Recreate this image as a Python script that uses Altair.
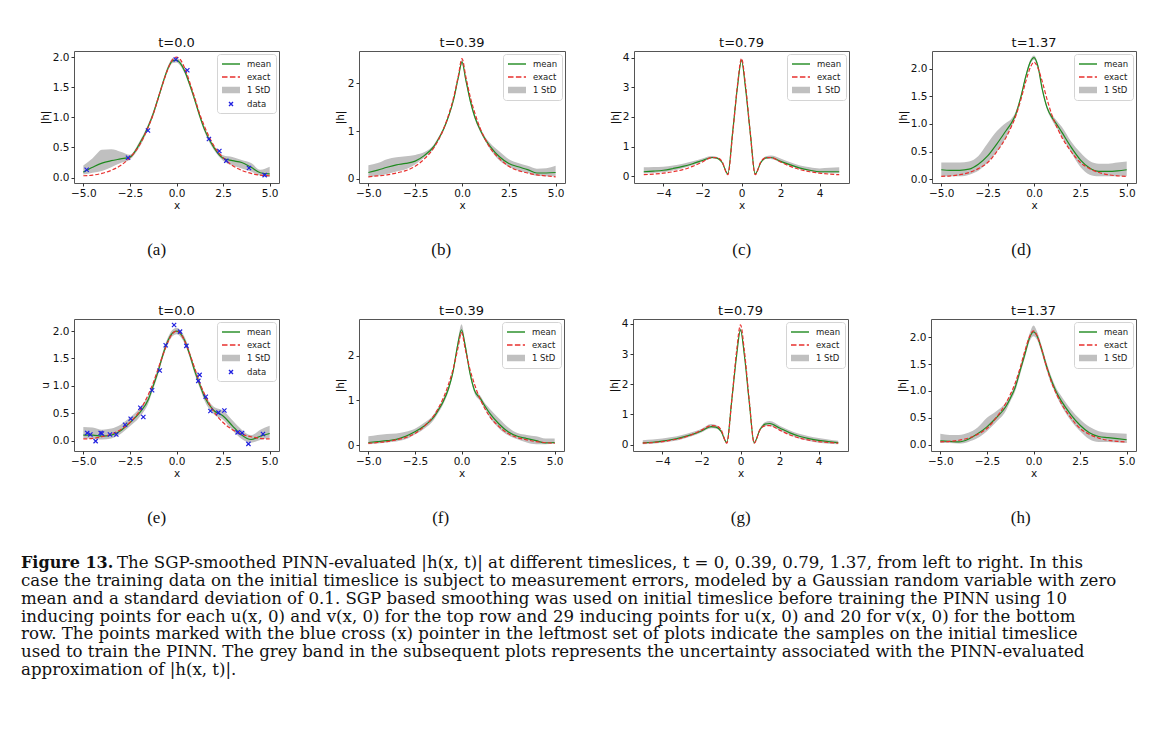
import altair as alt
import pandas as pd

# ---------------- data ----------------
XG = [-5, -4.5, -4, -3.5, -3, -2.5, -2, -1.5, -1.25, -1, -0.7, -0.45, -0.2, 0,
      0.2, 0.45, 0.7, 1, 1.25, 1.5, 2, 2.5, 3, 3.5, 4, 4.5, 5]

# exact solution |h| at each timeslice
EX_T0 = [0.03, 0.04, 0.07, 0.12, 0.20, 0.33, 0.53, 0.85, 1.05, 1.30, 1.59, 1.81, 1.96, 2.00,
         1.96, 1.81, 1.59, 1.30, 1.05, 0.85, 0.53, 0.33, 0.20, 0.12, 0.07, 0.04, 0.03]
EX_T1 = [0.04, 0.06, 0.08, 0.12, 0.17, 0.26, 0.42, 0.65, 0.82, 1.03, 1.36, 1.70, 2.15, 2.52,
         2.15, 1.70, 1.36, 1.03, 0.82, 0.65, 0.42, 0.26, 0.17, 0.12, 0.08, 0.06, 0.04]
EX_T2 = [0.05, 0.07, 0.10, 0.15, 0.22, 0.33, 0.48, 0.63, 0.62, 0.50, 0.05, 1.45, 3.10, 3.97,
         3.10, 1.45, 0.05, 0.50, 0.62, 0.63, 0.48, 0.33, 0.22, 0.15, 0.10, 0.07, 0.05]
EX_T3 = [0.05, 0.06, 0.08, 0.12, 0.19, 0.30, 0.50, 0.76, 0.93, 1.13, 1.45, 1.76, 2.02, 2.12,
         2.02, 1.76, 1.45, 1.13, 0.93, 0.76, 0.50, 0.30, 0.19, 0.12, 0.08, 0.06, 0.05]

# top row
MEAN_A = [0.09, 0.17, 0.24, 0.28, 0.31, 0.34, 0.55, 0.86, 1.06, 1.30, 1.60, 1.82, 1.94, 1.95,
          1.90, 1.76, 1.55, 1.27, 1.02, 0.80, 0.50, 0.32, 0.28, 0.25, 0.17, 0.08, 0.06]
LO_A = [0.05, 0.08, 0.11, 0.17, 0.24, 0.30, 0.50, 0.82, 1.02, 1.26, 1.56, 1.78, 1.90, 1.91,
        1.86, 1.72, 1.51, 1.23, 0.98, 0.76, 0.46, 0.28, 0.20, 0.15, 0.10, 0.03, 0.01]
HI_A = [0.20, 0.32, 0.46, 0.47, 0.43, 0.38, 0.59, 0.90, 1.10, 1.34, 1.64, 1.86, 1.98, 1.99,
        1.94, 1.80, 1.59, 1.31, 1.06, 0.84, 0.54, 0.37, 0.34, 0.29, 0.24, 0.13, 0.18]
DX_A = [-4.82, -2.6, -1.53, -0.04, 0.58, 1.74, 2.3, 2.67, 3.89, 4.73]
DY_A = [0.13, 0.33, 0.78, 1.96, 1.78, 0.64, 0.44, 0.28, 0.16, 0.04]

MEAN_B = [0.13, 0.18, 0.24, 0.29, 0.32, 0.37, 0.49, 0.68, 0.84, 1.03, 1.33, 1.66, 2.12, 2.45,
          2.08, 1.62, 1.28, 1.00, 0.82, 0.68, 0.46, 0.32, 0.25, 0.19, 0.12, 0.12, 0.13]
LO_B = [0.03, 0.06, 0.10, 0.15, 0.20, 0.30, 0.45, 0.64, 0.80, 0.99, 1.29, 1.62, 2.07, 2.40,
        2.03, 1.57, 1.23, 0.96, 0.78, 0.62, 0.38, 0.25, 0.17, 0.12, 0.06, 0.05, 0.05]
HI_B = [0.28, 0.33, 0.41, 0.45, 0.47, 0.50, 0.56, 0.72, 0.88, 1.07, 1.37, 1.70, 2.17, 2.50,
        2.13, 1.67, 1.33, 1.05, 0.87, 0.75, 0.57, 0.41, 0.33, 0.27, 0.21, 0.22, 0.27]

MEAN_C = [0.15, 0.17, 0.20, 0.26, 0.33, 0.42, 0.53, 0.63, 0.61, 0.47, 0.08, 1.50, 3.05, 3.90,
          3.00, 1.45, 0.08, 0.47, 0.62, 0.63, 0.50, 0.38, 0.27, 0.20, 0.15, 0.15, 0.15]
LO_C = [0.09, 0.11, 0.13, 0.19, 0.27, 0.37, 0.49, 0.60, 0.58, 0.44, 0.05, 1.46, 3.00, 3.85,
        2.95, 1.41, 0.05, 0.44, 0.58, 0.58, 0.46, 0.34, 0.23, 0.17, 0.11, 0.10, 0.10]
HI_C = [0.30, 0.31, 0.32, 0.36, 0.42, 0.50, 0.60, 0.68, 0.65, 0.51, 0.11, 1.54, 3.10, 3.95,
        3.05, 1.49, 0.11, 0.51, 0.67, 0.70, 0.60, 0.47, 0.36, 0.30, 0.26, 0.28, 0.30]

MEAN_D = [0.17, 0.16, 0.16, 0.18, 0.27, 0.42, 0.64, 0.88, 1.00, 1.16, 1.50, 1.85, 2.12, 2.20,
          2.06, 1.62, 1.30, 1.10, 0.98, 0.85, 0.58, 0.35, 0.20, 0.14, 0.14, 0.15, 0.17]
LO_D = [0.05, 0.05, 0.05, 0.08, 0.15, 0.30, 0.50, 0.76, 0.93, 1.11, 1.46, 1.81, 2.08, 2.16,
        2.02, 1.58, 1.26, 1.05, 0.91, 0.77, 0.48, 0.22, 0.08, 0.05, 0.05, 0.05, 0.05]
HI_D = [0.30, 0.30, 0.30, 0.32, 0.42, 0.65, 0.87, 1.02, 1.08, 1.21, 1.54, 1.89, 2.16, 2.24,
        2.10, 1.66, 1.34, 1.15, 1.05, 0.95, 0.68, 0.48, 0.33, 0.28, 0.28, 0.30, 0.32]

# bottom row
MEAN_E = [0.10, 0.10, 0.08, 0.10, 0.18, 0.33, 0.50, 0.76, 1.00, 1.25, 1.60, 1.83, 1.97, 2.00,
          1.96, 1.82, 1.58, 1.25, 1.02, 0.80, 0.55, 0.45, 0.27, 0.10, 0.02, 0.08, 0.13]
LO_E = [0.04, 0.04, 0.02, 0.04, 0.12, 0.26, 0.42, 0.69, 0.94, 1.19, 1.54, 1.77, 1.91, 1.94,
        1.90, 1.76, 1.52, 1.19, 0.96, 0.73, 0.48, 0.38, 0.19, 0.03, -0.04, 0.01, 0.05]
HI_E = [0.25, 0.24, 0.20, 0.22, 0.29, 0.42, 0.58, 0.84, 1.06, 1.31, 1.66, 1.89, 2.03, 2.06,
        2.02, 1.88, 1.64, 1.31, 1.08, 0.87, 0.62, 0.55, 0.37, 0.20, 0.10, 0.20, 0.27]
DX_E = [-4.79, -4.62, -4.34, -4.07, -4.0, -3.57, -3.23, -2.76, -2.46, -1.94, -1.78, -1.31,
        -0.9, -0.58, -0.13, 0.19, 0.53, 1.17, 1.24, 1.57, 1.82, 2.25, 2.57, 3.28, 3.52, 3.86, 4.64]
DY_E = [0.14, 0.11, -0.01, 0.14, 0.13, 0.11, 0.11, 0.29, 0.40, 0.60, 0.43, 0.92,
        1.28, 1.74, 2.11, 1.99, 1.73, 1.09, 1.20, 0.80, 0.54, 0.51, 0.55, 0.15, 0.14, -0.06, 0.12]

MEAN_F = [0.06, 0.08, 0.10, 0.13, 0.20, 0.30, 0.43, 0.62, 0.78, 0.96, 1.26, 1.65, 2.25, 2.58,
          2.22, 1.62, 1.22, 1.05, 0.88, 0.72, 0.48, 0.30, 0.20, 0.15, 0.10, 0.05, 0.06]
LO_F = [0.02, 0.04, 0.06, 0.08, 0.13, 0.24, 0.37, 0.56, 0.72, 0.90, 1.20, 1.59, 2.17, 2.48,
        2.14, 1.56, 1.16, 0.99, 0.82, 0.63, 0.38, 0.22, 0.13, 0.06, 0.02, 0.02, 0.03]
HI_F = [0.20, 0.23, 0.25, 0.26, 0.30, 0.37, 0.50, 0.68, 0.84, 1.02, 1.32, 1.71, 2.33, 2.70,
        2.30, 1.68, 1.28, 1.11, 0.94, 0.82, 0.60, 0.40, 0.27, 0.23, 0.20, 0.15, 0.15]

MEAN_G = [0.06, 0.08, 0.12, 0.17, 0.24, 0.33, 0.45, 0.60, 0.58, 0.45, 0.07, 1.45, 2.95, 3.80,
          2.95, 1.40, 0.07, 0.50, 0.68, 0.70, 0.55, 0.40, 0.28, 0.20, 0.14, 0.10, 0.07]
LO_G = [0.01, 0.03, 0.06, 0.11, 0.18, 0.28, 0.40, 0.54, 0.53, 0.41, 0.04, 1.40, 2.90, 3.74,
        2.90, 1.35, 0.04, 0.45, 0.62, 0.62, 0.48, 0.33, 0.20, 0.12, 0.06, 0.03, 0.01]
HI_G = [0.15, 0.17, 0.20, 0.25, 0.32, 0.41, 0.52, 0.68, 0.65, 0.50, 0.10, 1.50, 3.00, 3.86,
        3.00, 1.45, 0.10, 0.55, 0.74, 0.78, 0.63, 0.48, 0.36, 0.28, 0.22, 0.17, 0.13]

MEAN_H = [0.07, 0.06, 0.05, 0.10, 0.20, 0.33, 0.50, 0.70, 0.86, 1.05, 1.40, 1.70, 2.00, 2.10,
          2.02, 1.76, 1.46, 1.16, 0.96, 0.81, 0.56, 0.36, 0.22, 0.15, 0.13, 0.11, 0.09]
LO_H = [0.03, 0.03, 0.02, 0.05, 0.12, 0.25, 0.42, 0.62, 0.80, 0.98, 1.33, 1.63, 1.93, 2.02,
        1.95, 1.69, 1.39, 1.09, 0.89, 0.72, 0.45, 0.25, 0.10, 0.05, 0.05, 0.04, 0.03]
HI_H = [0.20, 0.18, 0.18, 0.22, 0.32, 0.50, 0.62, 0.78, 0.92, 1.12, 1.47, 1.77, 2.08, 2.22,
        2.10, 1.83, 1.53, 1.23, 1.03, 0.90, 0.66, 0.47, 0.33, 0.25, 0.22, 0.21, 0.20]

TITLES = ["t=0.0", "t=0.39", "t=0.79", "t=1.37"]
SUBS_TOP = ["(a)", "(b)", "(c)", "(d)"]
SUBS_BOT = ["(e)", "(f)", "(g)", "(h)"]
SUB_SHIFT = [-3, -9, 12, 4]
SERIES_ALL = ["mean", "exact", "1 StD", "data"]
TICKS_X_A = [-5, -2.5, 0, 2.5, 5]
TICKS_X_B = [-4, -2, 0, 2, 4]
TICKS_Y_2 = [0, 0.5, 1, 1.5, 2]
TICKS_Y_3 = [0, 1, 2]
TICKS_Y_4 = [0, 1, 2, 3, 4]

CAPTION_BOLD = "Figure 13."
CAPTION_LINES = [
    "The SGP-smoothed PINN-evaluated |h(x, t)| at different timeslices, t = 0, 0.39, 0.79, 1.37, from left to right. In this",
    "case the training data on the initial timeslice is subject to measurement errors, modeled by a Gaussian random variable with zero",
    "mean and a standard deviation of 0.1. SGP based smoothing was used on initial timeslice before training the PINN using 10",
    "inducing points for each u(x, 0) and v(x, 0) for the top row and 29 inducing points for u(x, 0) and 20 for v(x, 0) for the bottom",
    "row. The points marked with the blue cross (x) pointer in the leftmost set of plots indicate the samples on the initial timeslice",
    "used to train the PINN. The grey band in the subsequent plots represents the uncertainty associated with the PINN-evaluated",
    "approximation of |h(x, t)|.",
]

# ---------------- styling ----------------
GREEN = "#1f8a1f"
RED = "#e8302e"
GREY = "#c0c0c0"
BLUE = "#2020e0"
FONT = "DejaVu Sans"
SERIF = "Liberation Serif"
CAP_FONT = "DejaVu Serif"
PANEL_H = 132

SHAPES = {
    "mean": "M-1,0L2.6,0",
    "exact": "M-1,0L0.1,0M0.58,0L1.68,0M2.16,0L2.6,0",
    "1 StD": "M-1,-0.5L2.6,-0.5M-1,-0.3L2.6,-0.3M-1,-0.1L2.6,-0.1"
             "M-1,0.1L2.6,0.1M-1,0.3L2.6,0.3M-1,0.5L2.6,0.5",
    "data": "M0.4,-0.4L1.2,0.4M0.4,0.4L1.2,-0.4",
}
POINT_SHAPE = "M-1,-1L1,1M-1,1L1,-1"
COLORS = {"mean": GREEN, "exact": RED, "1 StD": GREY, "data": BLUE}


def panel(title, sub, sub_dx, mean, lo, hi, exact, ydom, yticks, yfmt, xticks, xfmt,
          ylabel, width, dx=None, dy=None):
    df = pd.DataFrame({"x": XG, "mean": mean, "lo": lo, "hi": hi, "exact": exact})
    xsc = alt.Scale(domain=[-5.5, 5.5], nice=False, zero=False)
    ysc = alt.Scale(domain=ydom, nice=False, zero=False)
    xax = alt.Axis(title="x", values=xticks, format=xfmt)
    yax = alt.Axis(title=ylabel, values=yticks, format=yfmt)
    base = alt.Chart(df)
    band = base.mark_area(color=GREY, opacity=1, interpolate="monotone").encode(
        x=alt.X("x:Q", scale=xsc, axis=xax),
        y=alt.Y("lo:Q", scale=ysc, axis=yax),
        y2="hi:Q",
    )
    mline = base.mark_line(color=GREEN, strokeWidth=1.2, interpolate="monotone").encode(
        x=alt.X("x:Q", scale=xsc, axis=xax),
        y=alt.Y("mean:Q", scale=ysc, axis=yax),
    )
    eline = base.mark_line(color=RED, strokeWidth=1.2, strokeDash=[4, 2],
                           interpolate="monotone").encode(
        x=alt.X("x:Q", scale=xsc, axis=xax),
        y=alt.Y("exact:Q", scale=ysc, axis=yax),
    )
    layers = [band, mline, eline]
    series = ["mean", "exact", "1 StD"]
    if dx is not None:
        pts = alt.Chart(pd.DataFrame({"x": dx, "y": dy})).mark_point(
            shape=POINT_SHAPE, filled=False, color=BLUE, strokeWidth=1.2, size=18, opacity=1
        ).encode(
            x=alt.X("x:Q", scale=xsc, axis=xax),
            y=alt.Y("y:Q", scale=ysc, axis=yax),
        )
        layers.append(pts)
        series = SERIES_ALL
    leg = alt.Legend(
        title=None, orient="top-right", offset=3, labelFont=FONT, labelFontSize=8.5,
        labelColor="#222", symbolSize=100, symbolStrokeWidth=1.4, symbolOpacity=1,
        labelOffset=14, padding=4, rowPadding=2, fillColor="rgba(255,255,255,0.8)",
        strokeColor="#d4d4d4", cornerRadius=3,
    )
    legdata = alt.Data(values=[{"s": s, "lx": None, "ly": None} for s in series])
    legend_layer = alt.Chart(legdata).mark_point(filled=False).encode(
        x=alt.X("lx:Q", scale=xsc, axis=xax),
        y=alt.Y("ly:Q", scale=ysc, axis=yax),
        color=alt.Color("s:N", scale=alt.Scale(domain=series, range=[COLORS[s] for s in series]),
                        legend=leg),
        shape=alt.Shape("s:N", scale=alt.Scale(domain=series, range=[SHAPES[s] for s in series]),
                        legend=leg),
    )
    layers.append(legend_layer)
    ch = alt.layer(*layers).properties(
        width=width, height=PANEL_H,
        title=alt.TitleParams(title, frame="group", font=FONT, fontSize=13,
                              fontWeight="normal", offset=1, color="#111"),
    )
    wrap = alt.vconcat(ch, title=alt.TitleParams(sub, orient="bottom", anchor="middle",
                                                 frame="bounds", font=SERIF, fontSize=17,
                                                 fontWeight="normal", offset=30, color="#111",
                                                 dx=sub_dx))
    return wrap.resolve_scale(color="independent", shape="independent")


def ind(c):
    return c.resolve_scale(color="independent", shape="independent", x="independent",
                           y="independent").resolve_legend(color="independent",
                                                           shape="independent")


top = [
    panel(TITLES[0], SUBS_TOP[0], SUB_SHIFT[0], MEAN_A, LO_A, HI_A, EX_T0, [-0.09, 2.1],
          TICKS_Y_2, ".1f", TICKS_X_A, ".1f", "|h|", 205, DX_A, DY_A),
    panel(TITLES[1], SUBS_TOP[1], SUB_SHIFT[1], MEAN_B, LO_B, HI_B, EX_T1, [-0.09, 2.68],
          TICKS_Y_3, "d", TICKS_X_A, ".1f", "|h|", 206),
    panel(TITLES[2], SUBS_TOP[2], SUB_SHIFT[2], MEAN_C, LO_C, HI_C, EX_T2, [-0.23, 4.22],
          TICKS_Y_4, "d", TICKS_X_B, "d", "|h|", 215),
    panel(TITLES[3], SUBS_TOP[3], SUB_SHIFT[3], MEAN_D, LO_D, HI_D, EX_T3, [-0.07, 2.32],
          TICKS_Y_2, ".1f", TICKS_X_A, ".1f", "|h|", 204),
]
bot = [
    panel(TITLES[0], SUBS_BOT[0], SUB_SHIFT[0], MEAN_E, LO_E, HI_E, EX_T0, [-0.19, 2.22],
          TICKS_Y_2, ".1f", TICKS_X_A, ".1f", "u", 205, DX_E, DY_E),
    panel(TITLES[1], SUBS_BOT[1], SUB_SHIFT[1], MEAN_F, LO_F, HI_F, EX_T1, [-0.13, 2.82],
          TICKS_Y_3, "d", TICKS_X_A, ".1f", "|h|", 205),
    panel(TITLES[2], SUBS_BOT[2], SUB_SHIFT[2], MEAN_G, LO_G, HI_G, EX_T2, [-0.21, 4.16],
          TICKS_Y_4, "d", TICKS_X_B, "d", "|h|", 215),
    panel(TITLES[3], SUBS_BOT[3], SUB_SHIFT[3], MEAN_H, LO_H, HI_H, EX_T3, [-0.12, 2.34],
          TICKS_Y_2, ".1f", TICKS_X_A, ".1f", "|h|", 205),
]


def row(p):
    left = ind(alt.hconcat(p[0], p[1], spacing=54))
    right = ind(alt.hconcat(p[2], p[3], spacing=47))
    return ind(alt.hconcat(left, right, spacing=43))


# ---------------- caption ----------------
CAP_FS = 16.6
cap_scale = alt.Scale(domain=[0, 6], range=[0, 107])
cap_rest = pd.DataFrame({"line": list(range(1, 7)), "text": CAPTION_LINES[1:]})
cap_first = pd.DataFrame({"line": [0], "text": [CAPTION_LINES[0]]})
cap_bold = pd.DataFrame({"line": [0], "text": [CAPTION_BOLD]})
CAP_X = -53

t_bold = alt.Chart(cap_bold).mark_text(
    align="left", baseline="middle", font=CAP_FONT, fontSize=16, fontWeight="bold", color="#111"
).encode(x=alt.value(CAP_X), y=alt.Y("line:Q", scale=cap_scale, axis=None), text="text:N")
t_first = alt.Chart(cap_first).mark_text(
    align="left", baseline="middle", font=CAP_FONT, fontSize=CAP_FS, color="#111", dx=96
).encode(x=alt.value(CAP_X), y=alt.Y("line:Q", scale=cap_scale, axis=None), text="text:N")
t_rest = alt.Chart(cap_rest).mark_text(
    align="left", baseline="middle", font=CAP_FONT, fontSize=CAP_FS, color="#111"
).encode(x=alt.value(CAP_X), y=alt.Y("line:Q", scale=cap_scale, axis=None), text="text:N")
caption = alt.layer(t_bold, t_first, t_rest).properties(
    width=1040, height=107, view=alt.ViewBackground(stroke="transparent")
)

rows = ind(alt.vconcat(row(top), row(bot), spacing=46))
chart = ind(alt.vconcat(rows, caption, spacing=28)).properties(
    padding={"left": 12, "top": 28, "right": 4, "bottom": 4}
).configure_axis(
    labelFont=FONT, titleFont=FONT, labelFontSize=10.5, titleFontSize=10.5,
    titleFontWeight="normal", labelColor="#111", titleColor="#111", tickColor="#333",
    tickSize=3, domain=False, grid=False, labelPadding=2, titlePadding=2,
).configure_view(stroke="#555", strokeWidth=1)

chart.save("out.html", embed_options={"renderer": "svg", "actions": False})
